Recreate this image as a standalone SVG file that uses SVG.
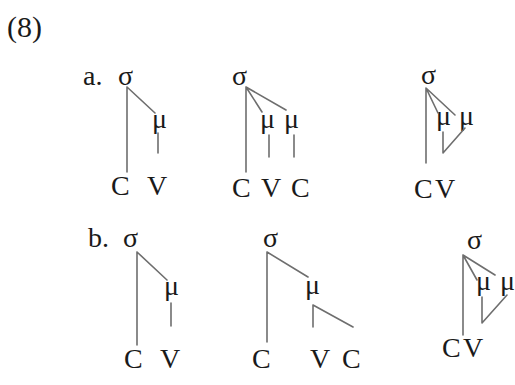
<svg xmlns="http://www.w3.org/2000/svg" width="515" height="385" viewBox="0 0 515 385">
<style>
text{font-family:"Liberation Serif","Times New Roman",serif;font-size:28px;fill:#1a1a1a}
.l{stroke:#6e6e6e;stroke-width:1.6;fill:none;stroke-linecap:round;stroke-linejoin:round}
</style>
<rect width="515" height="385" fill="#fff"/>
<text x="7" y="37" style="font-size:30px">(8)</text>
<text x="83" y="85">a.</text>
<text x="88" y="247">b.</text>
<g id="a1">
<text x="118" y="85">σ</text><text x="152" y="128">μ</text>
<text x="111" y="195">C</text><text x="147" y="195">V</text>
</g>
<g id="a2">
<text x="232" y="85">σ</text><text x="260" y="128">μ</text><text x="284" y="128">μ</text>
<text x="232" y="197">C</text><text x="261" y="197">V</text><text x="291" y="197">C</text>
</g>
<g id="a3">
<text x="421" y="84">σ</text><text x="436" y="125">μ</text><text x="459" y="125">μ</text>
<text x="414" y="198">C</text><text x="435" y="198">V</text>
</g>
<g id="b1">
<text x="123" y="247">σ</text><text x="164" y="295">μ</text>
<text x="124" y="368">C</text><text x="160" y="368">V</text>
</g>
<g id="b2">
<text x="263" y="247">σ</text><text x="305" y="294">μ</text>
<text x="252" y="368">C</text><text x="310" y="368">V</text><text x="342" y="368">C</text>
</g>
<g id="b3">
<text x="467" y="249">σ</text><text x="476" y="290">μ</text><text x="500" y="290">μ</text>
<text x="442" y="357">C</text><text x="463" y="357">V</text>
</g>
<g id="connectors" class="l">
<path d="M127 87V172M127 87L155 113M158 133V153"/>
<path d="M246 87V172M246 87L262 112M246 87L286 110M269 135V157M294 135V157"/>
<path d="M426 88V163M426 88L438 113M426 88L455 115M443 132V153L465 128"/>
<path d="M137 252V345M137 252L167 280M171 303V326"/>
<path d="M267 252V342M267 252L308 277M313 305V327M313 305L353 327"/>
<path d="M463 255V335M463 255L477 280M463 255L495 275M482 297V323L507 295"/>
</g>
</svg>
